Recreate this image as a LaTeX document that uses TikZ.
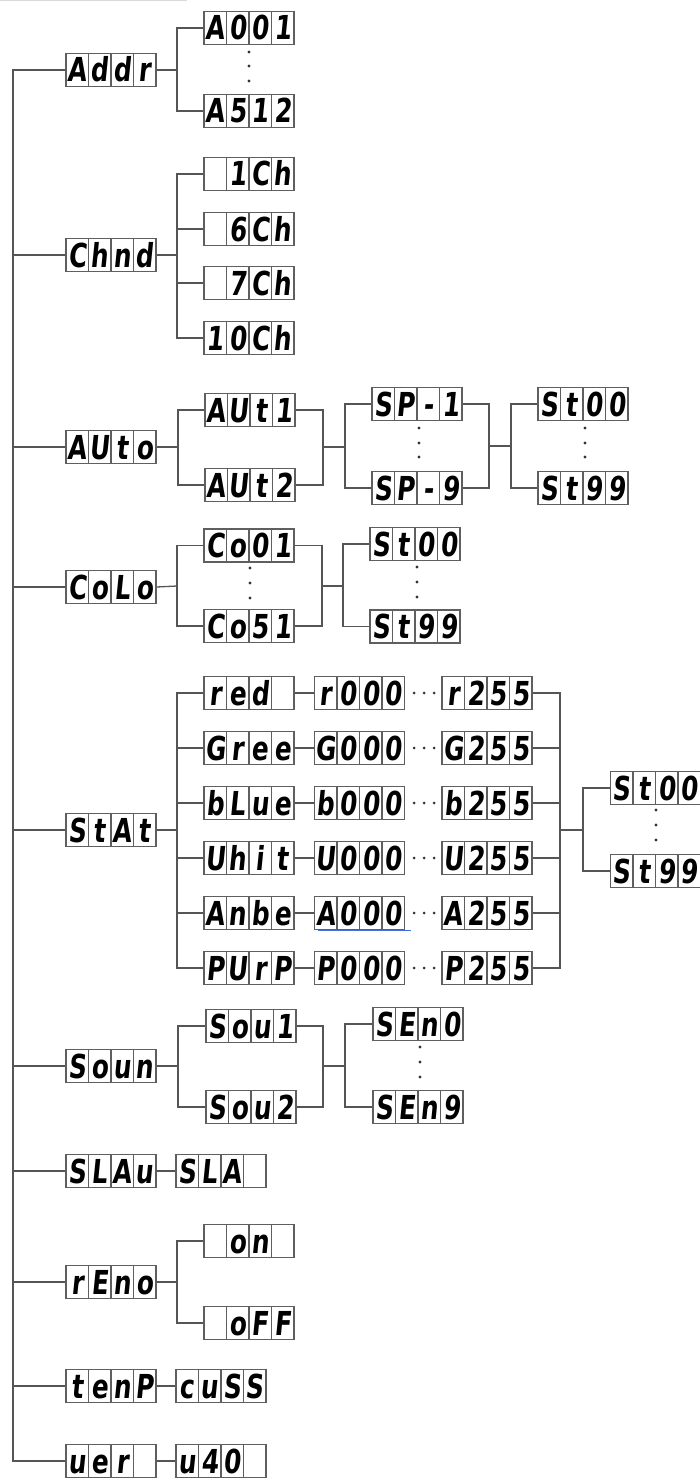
\documentclass[tikz,border=0pt]{standalone}
\usepackage{fontspec}
\newfontfamily\segfont[FakeStretch=0.75,FakeSlant=0.1]{DejaVu Sans}
\definecolor{wire}{RGB}{85,85,85}
\definecolor{frame}{RGB}{95,95,95}
\definecolor{uline}{RGB}{70,110,220}
\newcommand{\four}[4]{\makebox[22.5pt]{#1}\makebox[22.5pt]{#2}\makebox[22.5pt]{#3}\makebox[22.5pt]{#4}}
\tikzset{
    disp/.style={rectangle, draw=frame, line width=1.3pt, fill=white, minimum width=90pt, minimum height=33pt,
        inner sep=0pt, text height=24pt, text depth=0pt, font=\segfont\bfseries\fontsize{33}{33}\selectfont,
        path picture={\foreach \k in {1,2,3}
            \draw[frame, line width=1.3pt] ([xshift=\k*22.5pt]path picture bounding box.south west)
                -- ([xshift=\k*22.5pt]path picture bounding box.north west);}},
    link/.style={draw=wire, line width=1.3pt},
    dot/.style={fill=black!80}
}

\begin{document}
\begin{tikzpicture}[x=1pt, y=-1pt]
    \useasboundingbox (0,0) rectangle (699,1479);
    \draw[black!15] (0,0.6) -- (187,0.6);

    \node[disp] (Addr) at (111,70) {\four Addr};
    \node[disp] (A001) at (249,28) {\four A001};
    \node[disp] (A512) at (249,111) {\four A512};

    \node[disp] (Chnd) at (111,255) {\four Chnd};
    \node[disp] (ch1) at (249,174) {\four{}1Ch};
    \node[disp] (ch6) at (249,229) {\four{}6Ch};
    \node[disp] (ch7) at (249,283) {\four{}7Ch};
    \node[disp] (ch10) at (249,338) {\four 10Ch};

    \node[disp] (AUto) at (111,447) {\four AUto};
    \node[disp] (AUt1) at (250,410) {\four AUt1};
    \node[disp] (AUt2) at (250,485) {\four AUt2};
    \node[disp] (SP1) at (417,404) {\four SP-1};
    \node[disp] (SP9) at (417,488) {\four SP-9};
    \node[disp] (autoSt0) at (583,404) {\four St00};
    \node[disp] (autoSt9) at (583,488) {\four St99};

    \node[disp] (CoLo) at (111,587) {\four CoLo};
    \node[disp] (Co01) at (249,545.5) {\four Co01};
    \node[disp] (Co51) at (249,626) {\four Co51};
    \node[disp] (coloSt0) at (415,544) {\four St00};
    \node[disp] (coloSt9) at (415,626.5) {\four St99};

    \node[disp] (StAt) at (111,830) {\four StAt};
    \node[disp] (red) at (249,693) {\four red{}};
    \node[disp] (red0) at (359.5,693) {\four r000};
    \node[disp] (red9) at (487,693) {\four r255};
    \node[disp] (gree) at (249,748) {\four Gree};
    \node[disp] (gree0) at (359.5,748) {\four G000};
    \node[disp] (gree9) at (487,748) {\four G255};
    \node[disp] (blue) at (249,803) {\four bLue};
    \node[disp] (blue0) at (359.5,803) {\four b000};
    \node[disp] (blue9) at (487,803) {\four b255};
    \node[disp] (whit) at (249,858) {\four Uhit};
    \node[disp] (whit0) at (359.5,858) {\four U000};
    \node[disp] (whit9) at (487,858) {\four U255};
    \node[disp] (ambe) at (249,913) {\four Anbe};
    \node[disp] (ambe0) at (359.5,913) {\four A000};
    \node[disp] (ambe9) at (487,913) {\four A255};
    \node[disp] (purp) at (249,968) {\four PUrP};
    \node[disp] (purp0) at (359.5,968) {\four P000};
    \node[disp] (purp9) at (487,968) {\four P255};
    \node[disp] (statSt0) at (655.5,788) {\four St00};
    \node[disp] (statSt9) at (655.5,871) {\four St99};

    \node[disp] (Soun) at (111,1066) {\four Soun};
    \node[disp] (Sou1) at (251,1026) {\four Sou1};
    \node[disp] (Sou2) at (251,1107) {\four Sou2};
    \node[disp] (SEn0) at (418,1024) {\four SEn0};
    \node[disp] (SEn9) at (418,1107) {\four SEn9};

    \node[disp] (SLAu) at (111,1171) {\four SLAu};
    \node[disp] (SLA) at (221,1171) {\four SLA{}};

    \node[disp] (rEno) at (111,1282) {\four rEno};
    \node[disp] (on) at (249,1241) {\four{}on{}};
    \node[disp] (oFF) at (249,1323) {\four{}oFF};

    \node[disp] (tenP) at (111,1386) {\four tenP};
    \node[disp] (cuSS) at (221,1386) {\four cuSS};

    \node[disp] (uer) at (111,1461) {\four uer{}};
    \node[disp] (u40) at (221,1461) {\four u40{}};

    \coordinate (trunk) at (13,70);
    \draw[link] (Addr.west) -- (trunk) -- (trunk |- uer.west) -- (uer.west);
    \foreach \n in {Chnd,AUto,CoLo,StAt,Soun,SLAu,rEno,tenP}
        \draw[link] (\n.west) -- (trunk |- \n.west);

    \coordinate (jAddr) at (177,70);
    \draw[link] (Addr.east) -- (jAddr);
    \draw[link] (A001.west) -| (jAddr) |- (A512.west);

    \coordinate (jChnd) at (177,255);
    \draw[link] (Chnd.east) -- (jChnd);
    \draw[link] (ch1.west) -| (jChnd) |- (ch10.west);
    \draw[link] (ch6.west) -- (jChnd |- ch6.west);
    \draw[link] (ch7.west) -- (jChnd |- ch7.west);

    \coordinate (jAUto) at (178,447);
    \coordinate (mAUt) at (323,447);
    \coordinate (jSP) at (345,447);
    \coordinate (mSP) at (489,446);
    \coordinate (jAutoSt) at (511,446);
    \draw[link] (AUto.east) -- (jAUto);
    \draw[link] (AUt1.west) -| (jAUto) |- (AUt2.west);
    \draw[link] (AUt1.east) -| (mAUt) |- (AUt2.east);
    \draw[link] (mAUt) -- (jSP);
    \draw[link] (SP1.west) -| (jSP) |- (SP9.west);
    \draw[link] (SP1.east) -| (mSP) |- (SP9.east);
    \draw[link] (mSP) -- (jAutoSt);
    \draw[link] (autoSt0.west) -| (jAutoSt) |- (autoSt9.west);

    \coordinate (jCoLo) at (177,586);
    \coordinate (mCo) at (322,586);
    \coordinate (jColoSt) at (343,586);
    \draw[link] (CoLo.east) -- (jCoLo);
    \draw[link] (Co01.west) -| (jCoLo) |- (Co51.west);
    \draw[link] (Co01.east) -| (mCo) |- (Co51.east);
    \draw[link] (mCo) -- (jColoSt);
    \draw[link] (coloSt0.west) -| (jColoSt) |- (coloSt9.west);

    \coordinate (jStAt) at (177,830);
    \coordinate (mStAt) at (560,830);
    \coordinate (jStatSt) at (583,830);
    \draw[link] (StAt.east) -- (jStAt);
    \draw[link] (red.west) -| (jStAt) |- (purp.west);
    \draw[link] (red9.east) -| (mStAt) |- (purp9.east);
    \foreach \r in {gree,blue,whit,ambe} {
        \draw[link] (\r.west) -- (jStAt |- \r.west);
        \draw[link] (\r9.east) -- (mStAt |- \r9.east);
    }
    \foreach \r in {red,gree,blue,whit,ambe,purp} {
        \draw[link] (\r.east) -- (\r0.west);
        \foreach \dx in {9,19,29}
            \fill[dot] ([xshift=\dx pt]\r0.east) circle (1.5pt);
    }
    \draw[link] (mStAt) -- (jStatSt);
    \draw[link] (statSt0.west) -| (jStatSt) |- (statSt9.west);
    \draw[uline, line width=1pt] ([xshift=4pt]ambe0.south west) -- ([xshift=6pt]ambe0.south east);

    \coordinate (jSoun) at (178,1066);
    \coordinate (mSou) at (323,1066);
    \coordinate (jSEn) at (345,1066);
    \draw[link] (Soun.east) -- (jSoun);
    \draw[link] (Sou1.west) -| (jSoun) |- (Sou2.west);
    \draw[link] (Sou1.east) -| (mSou) |- (Sou2.east);
    \draw[link] (mSou) -- (jSEn);
    \draw[link] (SEn0.west) -| (jSEn) |- (SEn9.west);

    \draw[link] (SLAu.east) -- (SLA.west);

    \coordinate (jrEno) at (177,1282);
    \draw[link] (rEno.east) -- (jrEno);
    \draw[link] (on.west) -| (jrEno) |- (oFF.west);

    \draw[link] (tenP.east) -- (cuSS.west);
    \draw[link] (uer.east) -- (u40.west);

    \foreach \x/\y in {249/52,249/66,249/81, 419/428,419/443,419/457, 585/428,585/443,585/457,
        250/568,250/583,250/598, 417/567,417/582,417/597, 656/810,656/825,656/840,
        420/1047,420/1062,420/1077}
        \fill[dot] (\x,\y) circle (1.6pt);
\end{tikzpicture}
\end{document}
